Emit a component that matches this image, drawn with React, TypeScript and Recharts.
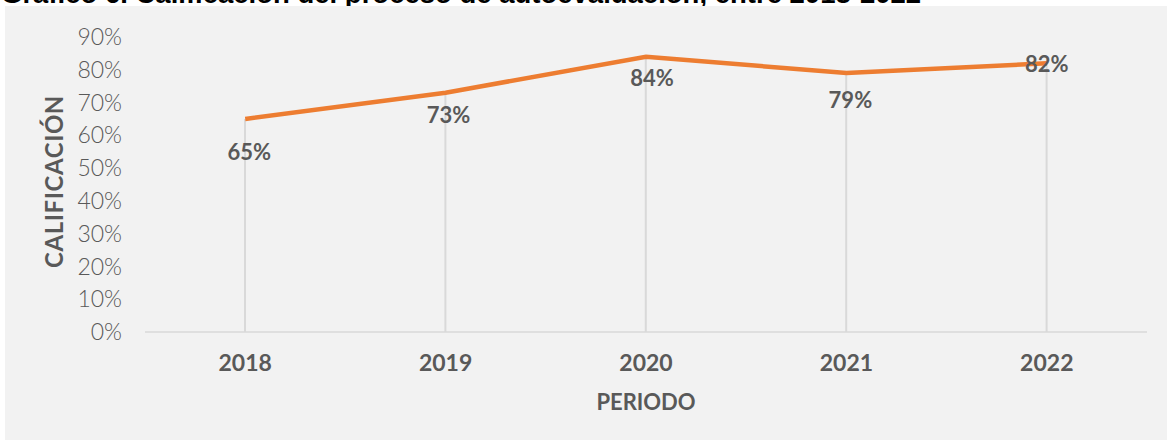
import {
  Bar,
  ComposedChart,
  Label,
  LabelList,
  Line,
  XAxis,
  YAxis,
} from "recharts";

const periods = ["2018", "2019", "2020", "2021", "2022"];
const scores = [65, 73, 84, 79, 82];
const yTicks = [0, 10, 20, 30, 40, 50, 60, 70, 80, 90];

const data = periods.map((period, i) => ({ period, score: scores[i] }));

const INK = "#595959";
const FONT = "Lato, 'Noto Sans', sans-serif";

// hand-placed data labels, like the original sheet
const labelShift: [number, number][] = [
  [4, 33],
  [3, 22],
  [6, 21],
  [4, 26],
  [0, 0],
];

function ScoreLabel(props: any) {
  const { x, y, value, index } = props;
  const [dx, dy] = labelShift[index] ?? [0, 0];
  return (
    <text
      x={x + dx}
      y={y + dy}
      textAnchor="middle"
      dominantBaseline="central"
      fill={INK}
      fontFamily={FONT}
      fontWeight={700}
      fontSize={22}
    >
      {value}%
    </text>
  );
}

function YTitle(props: any) {
  const { viewBox } = props;
  const cx = viewBox.x + 48;
  const cy = viewBox.y + viewBox.height / 2 - 3;
  return (
    <text
      x={cx}
      y={cy}
      transform={`rotate(-90 ${cx} ${cy})`}
      textAnchor="middle"
      dominantBaseline="central"
      fill={INK}
      fontFamily={FONT}
      fontWeight={700}
      fontSize={24}
      letterSpacing={0.6}
    >
      CALIFICACIÓN
    </text>
  );
}

export default function App() {
  return (
    <div
      style={{
        position: "absolute",
        left: 0,
        top: 0,
        width: 1167,
        height: 440,
        background: "#fff",
        overflow: "hidden",
      }}
    >
      <div
        style={{
          position: "absolute",
          left: 1,
          top: -20,
          fontFamily: "'Liberation Sans', Arial, sans-serif",
          fontWeight: 700,
          fontSize: 27.5,
          lineHeight: 1,
          whiteSpace: "nowrap",
          color: "#000",
        }}
      >
        Gráfico 6. Calificación del proceso de autoevaluación, entre 2018-2022
      </div>
      <div
        style={{
          position: "absolute",
          left: 5,
          top: 6,
          width: 1162,
          height: 434,
          background: "#f2f2f2",
        }}
      >
        <ComposedChart
          width={1162}
          height={434}
          data={data}
          margin={{ top: 31, right: 20, left: 0, bottom: 0 }}
        >
          <XAxis
            dataKey="period"
            height={108}
            axisLine={{ stroke: "#d9d9d9", strokeWidth: 1.5 }}
            tickLine={false}
            tickSize={0}
            tickMargin={23}
            tick={{
              fill: INK,
              fontFamily: FONT,
              fontWeight: 700,
              fontSize: 23,
            }}
          >
            <Label
              value="PERIODO"
              position="insideBottom"
              offset={30}
              fill={INK}
              fontFamily={FONT}
              fontWeight={700}
              fontSize={22}
            />
          </XAxis>
          <YAxis
            width={140}
            domain={[0, 90]}
            ticks={yTicks}
            interval={0}
            axisLine={false}
            tickLine={false}
            tickSize={0}
            tickMargin={23}
            tickFormatter={(v) => `${v}%`}
            tick={{
              fill: INK,
              fontFamily: FONT,
              fontWeight: 300,
              fontSize: 23,
            }}
          >
            <Label content={<YTitle />} />
          </YAxis>
          <Bar
            dataKey="score"
            barSize={2}
            fill="#d9d9d9"
            isAnimationActive={false}
          />
          <Line
            dataKey="score"
            type="linear"
            stroke="#ed7d31"
            strokeWidth={4.5}
            dot={false}
            activeDot={false}
            isAnimationActive={false}
          >
            <LabelList dataKey="score" content={<ScoreLabel />} />
          </Line>
        </ComposedChart>
      </div>
    </div>
  );
}
